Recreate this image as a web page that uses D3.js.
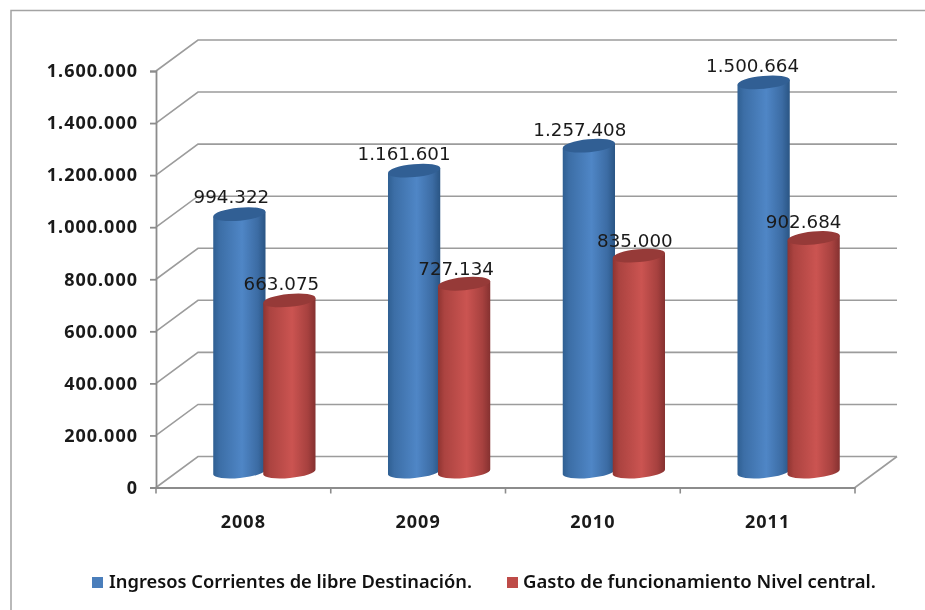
<!DOCTYPE html>
<html><head><meta charset="utf-8">
<script src="https://cdnjs.cloudflare.com/ajax/libs/d3/7.8.5/d3.min.js"></script>
<style>html,body{margin:0;padding:0;background:#fff}svg{display:block;filter:blur(.45px)}</style>
</head><body><svg id="c" width="925" height="610"></svg>
<script>
const categories=["2008","2009","2010","2011"];
const seriesNames=["Ingresos Corrientes de libre Destinación.","Gasto de funcionamiento Nivel central."];
const ingresos=[994322,1161601,1257408,1500664];
const gasto=[663075,727134,835000,902684];
const yTicks=[0,200000,400000,600000,800000,1000000,1200000,1400000,1600000];
// label nudges relative to each bar's default label anchor
const ingresosNudge=[[-8,2],[-10,2],[-9,3],[-11,3]];
const gastoNudge=[[-8,3],[-8,4],[-4,4],[-10,3]];

const svg=d3.select("#c");
const defs=svg.append("defs");
function grad(id,stops){
  const g=defs.append("linearGradient").attr("id",id);
  stops.forEach(s=>g.append("stop").attr("offset",s[0]).attr("stop-color",s[1]));
}
grad("blue",[[0,"#2f5f92"],[.12,"#3c6ea6"],[.55,"#4f86c6"],[.85,"#3c6ca4"],[1,"#2a5584"]]);
grad("red",[[0,"#8f3431"],[.12,"#ab4340"],[.55,"#cb5451"],[.85,"#a7413f"],[1,"#853130"]]);
const fills=["url(#blue)","url(#red)"], caps=["#315f94","#963a38"], legendCols=["#4a7ebb","#be4b48"];

const fmt=d3.formatLocale({decimal:",",thousands:".",grouping:[3],currency:["",""]}).format(",d");
const D={x:42,y:-31};
const left=156,right=855,y0=487.5,y1=71;
const x=d3.scaleBand().domain(categories).range([left,right]);
const y=d3.scaleLinear().domain([0,1600000]).range([y0,y1]);

svg.append("path").attr("d","M11,610 V10.5 H925")
  .attr("fill","none").attr("stroke","#a3a3a3").attr("stroke-width",1.5);

const grid="#9c9c9c";
const g=svg.append("g");
yTicks.forEach(t=>{
  g.append("path").attr("d",d3.line()([[left,y(t)],[left+D.x,y(t)+D.y],[right+D.x,y(t)+D.y]]))
   .attr("fill","none").attr("stroke",grid).attr("stroke-width",1.6);
});
g.append("path").attr("d",d3.line()([[right,y0],[right+D.x,y0+D.y]])).attr("fill","none").attr("stroke",grid).attr("stroke-width",1.6);

const axisFont=sel=>sel.attr("font-family","Noto Sans").attr("font-weight",700).attr("font-size",18).attr("letter-spacing",1).attr("fill","#1a1a1a");
const ax=svg.append("g").attr("transform",`translate(${left},0)`)
  .call(d3.axisLeft(y).tickValues(yTicks).tickFormat(fmt).tickSize(6).tickPadding(12));
ax.selectAll("path,line").attr("stroke","#8c8c8c").attr("stroke-width",1.8);
ax.selectAll("text").call(axisFont);
const bx=svg.append("g").attr("transform",`translate(0,${y0})`)
  .call(d3.axisBottom(x).tickSize(0).tickPadding(28));
bx.selectAll("path").attr("stroke","#8c8c8c").attr("stroke-width",1.8);
bx.selectAll("text").call(axisFont);
categories.concat([null]).forEach((c,i)=>{
  const px=left+i*x.step();
  bx.append("line").attr("x1",px).attr("x2",px).attr("y1",0).attr("y2",6).attr("stroke","#8c8c8c").attr("stroke-width",1.6);
});

// cylinders
const barW=52.5, ry=6.5, ryBase=6, tilt=-5.5;
const mid={x:D.x/2,y:D.y/2+1};
function drawBar(cx,v,si){
  const base=y(0)+mid.y-1, top=y(v)+mid.y, rx=barW/2;
  const gg=svg.append("g");
  const rad=tilt*Math.PI/180, dy=rx*Math.sin(rad), dx=rx*Math.cos(rad);
  gg.append("path")
    .attr("d",`M${cx-dx},${top-dy} L${cx+dx},${top+dy} L${cx+dx},${base+dy} A${rx},${ryBase} ${tilt} 0 1 ${cx-dx},${base-dy} Z`)
    .attr("fill",fills[si]);
  gg.append("ellipse").attr("cx",cx).attr("cy",top).attr("rx",rx).attr("ry",ry)
    .attr("transform",`rotate(${tilt} ${cx} ${top})`).attr("fill",caps[si]);
}
categories.forEach((c,i)=>{
  const cc=x(c)+x.step()/2+mid.x;
  drawBar(cc-25,ingresos[i],0);
  drawBar(cc+25,gasto[i],1);
});
const lab=(px,py,t)=>svg.append("text").attr("x",px).attr("y",py).attr("text-anchor","middle")
  .attr("font-family","DejaVu Sans").attr("font-size",18.3).attr("fill","#1a1a1a").text(t);
categories.forEach((c,i)=>{
  const cc=x(c)+x.step()/2+mid.x;
  lab(cc-25+ingresosNudge[i][0],y(ingresos[i])+mid.y-13+ingresosNudge[i][1],fmt(ingresos[i]));
  lab(cc+25+gastoNudge[i][0],y(gasto[i])+mid.y-13+gastoNudge[i][1],fmt(gasto[i]));
});
// legend
seriesNames.forEach((n,i)=>{
  svg.append("rect").attr("x",[92,507][i]).attr("y",577).attr("width",11).attr("height",11).attr("fill",legendCols[i]);
  svg.append("text").attr("x",[109,523][i]).attr("y",588)
    .attr("font-family","Noto Sans").attr("font-weight",600).attr("font-size",17.5).attr("fill","#111")
    .attr("textLength",[363,353][i]).attr("lengthAdjust","spacingAndGlyphs").text(n);
});
</script></body></html>
